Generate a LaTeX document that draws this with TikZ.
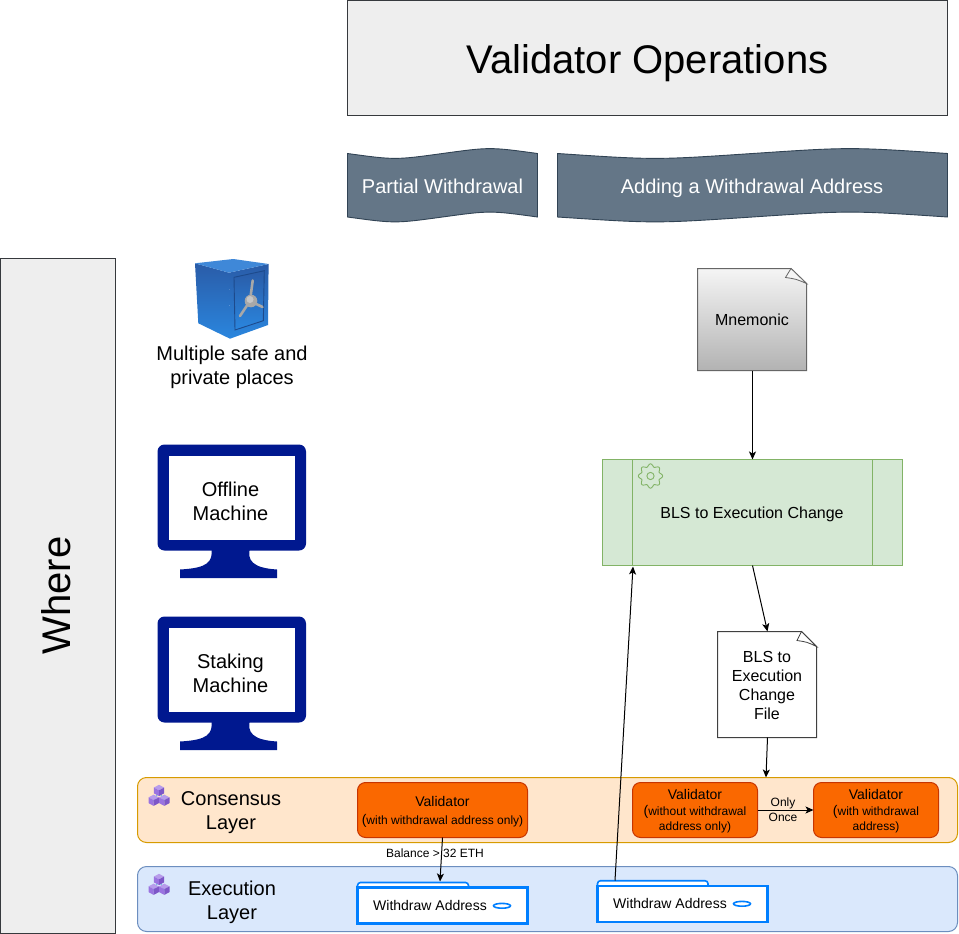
\documentclass[tikz,border=0pt]{standalone}
\usepackage{fontspec}
\setmainfont{Liberation Sans}
\usetikzlibrary{arrows.meta,calc}
\definecolor{titlefill}{HTML}{EEEEEE}
\definecolor{titleline}{HTML}{36393D}
\definecolor{tapefill}{HTML}{647687}
\definecolor{tapeline}{HTML}{314354}
\definecolor{procfill}{HTML}{D5E8D4}
\definecolor{procline}{HTML}{82B366}
\definecolor{consfill}{HTML}{FFE6CC}
\definecolor{consline}{HTML}{D79B00}
\definecolor{execfill}{HTML}{DAE8FC}
\definecolor{execline}{HTML}{6C8EBF}
\definecolor{valfill}{HTML}{FA6800}
\definecolor{valline}{HTML}{C73500}
\definecolor{folderline}{HTML}{007FFF}
\definecolor{monitorblue}{HTML}{00188F}
\definecolor{docline}{HTML}{666666}
\definecolor{safedark}{HTML}{2A5CA8}
\definecolor{safelight}{HTML}{2A86DE}
\definecolor{safetop}{HTML}{3F88D8}
\definecolor{safeedge}{HTML}{1D4A8C}
\definecolor{safesteel}{HTML}{A8A8A8}
\newcommand{\fs}[2]{\fontsize{#1}{#2}\selectfont}
\newcommand{\tapeshape}[4]{% x0 width ytop ybottom
  \path[draw=tapeline,fill=tapefill,line width=.9pt]
    (#1,#3) .. controls ({#1+0.25*#2},#3+6.5) .. ({#1+0.5*#2},#3)
    .. controls ({#1+0.75*#2},#3-6.5) .. ({#1+#2},#3)
    -- ({#1+#2},#4)
    .. controls ({#1+0.75*#2},#4-6.5) .. ({#1+0.5*#2},#4)
    .. controls ({#1+0.25*#2},#4+6.5) .. (#1,#4) -- cycle;}
\newcommand{\monitorshape}[1]{% y offset
  \begin{scope}[shift={(0,#1)}]
    \fill[monitorblue,rounded corners=7pt] (157.5,444.5) rectangle (306,550.5);
    \fill[monitorblue] (211.5,548) .. controls (213,562) and (208,568) .. (180,569.5)
      -- (180,578) -- (277,578) -- (277,569.5) .. controls (252,568) and (247,560) .. (250,548) -- cycle;
    \fill[white] (168.5,455.5) rectangle (295,540);
  \end{scope}}
\definecolor{cubetop}{HTML}{B79CEB}
\definecolor{cubeleft}{HTML}{9A73E0}
\definecolor{cuberight}{HTML}{7E57C8}
\definecolor{cubelink}{HTML}{3FC6DC}
\newcommand{\isocube}[2]{%
  \fill[fill=cubetop] (#1,#2-5.5) -- (#1+5.2,#2-2.7) -- (#1,#2) -- (#1-5.2,#2-2.7) -- cycle;
  \fill[fill=cubeleft] (#1-5.2,#2-2.7) -- (#1,#2) -- (#1,#2+5.8) -- (#1-5.2,#2+3) -- cycle;
  \fill[fill=cuberight] (#1+5.2,#2-2.7) -- (#1,#2) -- (#1,#2+5.8) -- (#1+5.2,#2+3) -- cycle;}
\newcommand{\layericon}[2]{%
  \begin{scope}[shift={(#1,#2)}]
    \draw[cubelink,line width=.7pt] (0,-4) -- (-5.3,5.5) -- (5.3,5.5) -- cycle;
    \isocube{0}{-5.2}
    \isocube{-5.3}{4.6}
    \isocube{5.3}{4.6}
  \end{scope}}
\tikzset{
  every node/.style={inner sep=0pt,outer sep=0pt,text=black},
  box/.style={anchor=north west,line width=1pt,align=center},
  titlebox/.style={box,draw=titleline,fill=titlefill},
  plain/.style={align=center},
  layerbox/.style={box,rounded corners=9pt},
  valbox/.style={box,draw=valline,fill=valfill,rounded corners=8pt,text=black},
  folderbody/.style={box,draw=folderline,fill=white,line width=2.2pt},
  foldertab/.style={draw=folderline,line width=1.6pt,fill=white,rounded corners=3pt},
  link/.style={draw=black,line width=1pt,-{Stealth[length=8pt,width=7pt,inset=2pt]}}
}
\begin{document}
\begin{tikzpicture}[x=1pt,y=-1pt]
\useasboundingbox (0,0) rectangle (959,934);
\fill[white] (0,0) rectangle (959,934);

% title and headers
\node[titlebox,minimum width=600pt,minimum height=115pt] (title) at (347.5,0.5) {};
\node[plain,font=\fs{40}{46}] (titletext) at (647.5,63) {Validator Operations};
\tapeshape{347.5}{190}{153.5}{217}
\node[plain,font=\fs{20}{24},text=white] (partial) at (442.5,186) {Partial Withdrawal};
\tapeshape{557.5}{390}{153.5}{217}
\node[plain,font=\fs{20}{24},text=white] (adding) at (752,188) {Adding a Withdrawal Address};

% where
\node[titlebox,minimum width=115pt,minimum height=675pt] (wherebox) at (0.5,258.5) {};
\node[plain,rotate=90,font=\fs{40}{46}] (where) at (56.5,595.5) {Where};

% safe icon
\shade[top color=safedark,bottom color=safelight]
  (195,263.3) -- (229,272.7) -- (230,338.7) -- (198.3,323.3) -- cycle;
\shade[top color=safedark,bottom color=safelight]
  (229,272.7) -- (268.6,264) -- (268,325) -- (230,338.7) -- cycle;
\fill[safetop] (195,263.3) -- (233.3,259) -- (268.6,264) -- (229,272.7) -- cycle;
\shade[top color=safedark,bottom color=safelight,draw=safeedge,line width=.9pt]
  (234,277.3) -- (264.3,270.7) -- (263.3,320.7) -- (235,330) -- cycle;
\draw[safesteel,line width=2.6pt,line cap=round] (250,301) -- (252.7,280.5);
\draw[safesteel,line width=2.6pt,line cap=round] (250,301) -- (240,316);
\draw[safesteel,line width=2.6pt,line cap=round] (250,301) -- (262.5,307);
\fill[safesteel] (251,301) circle (6.3pt);
\fill[white,opacity=.35] (250,299.5) circle (3.5pt);
\node[plain,font=\fs{20}{24}] (safe) at (232,367.5) {Multiple safe and\\private places};

% monitors
\monitorshape{0}
\node[plain,font=\fs{20}{24}] (offline) at (230.5,501) {Offline\\Machine};
\monitorshape{172}
\node[plain,font=\fs{20}{24}] (staking) at (230.5,673) {Staking\\Machine};

% mnemonic
\path[draw=docline,line width=1pt,top color=gray!8,bottom color=gray!60]
  (697.5,268.5) -- (791,268.5) -- (806.5,283.5) -- (806.5,370.5) -- (697.5,370.5) -- cycle;
\path[draw=docline,line width=.8pt,fill=gray!8]
  (791,268.5) .. controls (789,273) .. (785.5,277.5) .. controls (796,279) .. (806.5,283.5) -- cycle;
\node[anchor=north west,minimum width=110pt,minimum height=102pt] (mnem) at (697.5,268.5) {};
\node[plain,font=\fs{16}{19}] (mnemtext) at (752,320) {Mnemonic};

% process
\node[box,draw=procline,fill=procfill,minimum width=300pt,minimum height=106pt] (proc) at (602.5,459.5) {};
\draw[procline,line width=1pt] (632.5,459.5) -- (632.5,565.5) (872.5,459.5) -- (872.5,565.5);
\draw[procline,line width=.9pt] plot[smooth cycle,samples=64,domain=0:354.375,variable=\t]
  ({650.5+(10.8+1.4*cos(8*\t))*cos(\t)},{476+(10.8+1.4*cos(8*\t))*sin(\t)});
\draw[procline,line width=.9pt] (650.5,476) circle (3.6pt);
\node[plain,font=\fs{16}{19}] (proctext) at (752,514.5) {BLS to Execution Change};

% file
\path[draw=black!75,line width=1pt,fill=white]
  (717.5,631.5) -- (801.5,631.5) -- (816.5,646.5) -- (816.5,737.5) -- (717.5,737.5) -- cycle;
\path[draw=black!75,line width=.8pt,fill=white]
  (801.5,631.5) .. controls (800,636) .. (797,640.5) .. controls (807,642) .. (816.5,646.5) -- cycle;
\node[anchor=north west,minimum width=100pt,minimum height=106pt] (file) at (717.5,631.5) {};
\node[plain,font=\fs{16}{19}] (filetext) at (767,685.2) {BLS to\\Execution\\Change\\File};

% layers
\node[layerbox,draw=consline,fill=consfill,minimum width=820pt,minimum height=65pt] (cons) at (137.5,777.5) {};
\node[layerbox,draw=execline,fill=execfill,minimum width=820pt,minimum height=65pt] (exec) at (137.5,866.5) {};
\layericon{159}{795.5}
\layericon{159}{884.5}
\node[plain,font=\fs{20}{24}] (constext) at (231,813) {Consensus\\Layer};
\node[plain,font=\fs{20}{24}] (exectext) at (232,902) {Execution\\Layer};

% validators
\node[valbox,minimum width=170pt,minimum height=55pt] (val1) at (357.5,782.5) {};
\node[plain,font=\fs{12}{18}] (val1text) at (442.5,812) {{\fs{14}{18}Validator}\\{\fs{14}{18}(}with withdrawal address only)};
\node[valbox,minimum width=125pt,minimum height=55pt] (val2) at (632.5,782.5) {};
\node[plain,font=\fs{12}{15.5}] (val2text) at (695,811.5) {{\fs{14}{15.5}Validator}\\{\fs{14}{15.5}(}without withdrawal\\address only)};
\node[valbox,minimum width=125pt,minimum height=55pt] (val3) at (813.5,782.5) {};
\node[plain,font=\fs{12}{15.5}] (val3text) at (876,811.5) {{\fs{14}{15.5}Validator}\\{\fs{14}{15.5}(}with withdrawal\\address)};

% folders
\draw[foldertab] (357.5,888) -- (357.5,882.5) -- (468.5,882.5) -- (468.5,888);
\node[folderbody,minimum width=170pt,minimum height=36pt] (fold1) at (357.5,887.5) {};
\node[plain,font=\fs{14}{17}] (fold1text) at (430,905.5) {Withdraw Address};
\draw[folderline,line width=1.6pt,fill=white] (502,905.8) ellipse (8.5pt and 2.4pt);
\draw[foldertab] (597.5,886) -- (597.5,880.7) -- (708,880.7) -- (708,886);
\node[folderbody,minimum width=170pt,minimum height=36pt] (fold2) at (597.5,885.7) {};
\node[plain,font=\fs{14}{17}] (fold2text) at (670,903.5) {Withdraw Address};
\draw[folderline,line width=1.6pt,fill=white] (742,903.8) ellipse (8.5pt and 2.4pt);

% connector ends
\coordinate (fileend) at (766,777.5);
\coordinate (fold1in) at (440,881.5);
\coordinate (fold2out) at (615,880.5);
\coordinate (procin) at (633,566.5);

% connectors
\draw[link] (mnem.south) -- (proc.north);
\draw[link] (proc.south) -- (file.north);
\draw[link] (file.south) -- (fileend);
\draw[link] (val1.south) -- (fold1in);
\draw[link] (fold2out) -- (procin);
\draw[link] (val2.east) -- (val3.west);
\node[plain,font=\fs{12}{15}] (onlyonce) at (783,809.5) {Only\\Once};
\node[plain,font=\fs{12}{14}] (balance) at (435,853.5) {Balance > 32 ETH};
\end{tikzpicture}
\end{document}
